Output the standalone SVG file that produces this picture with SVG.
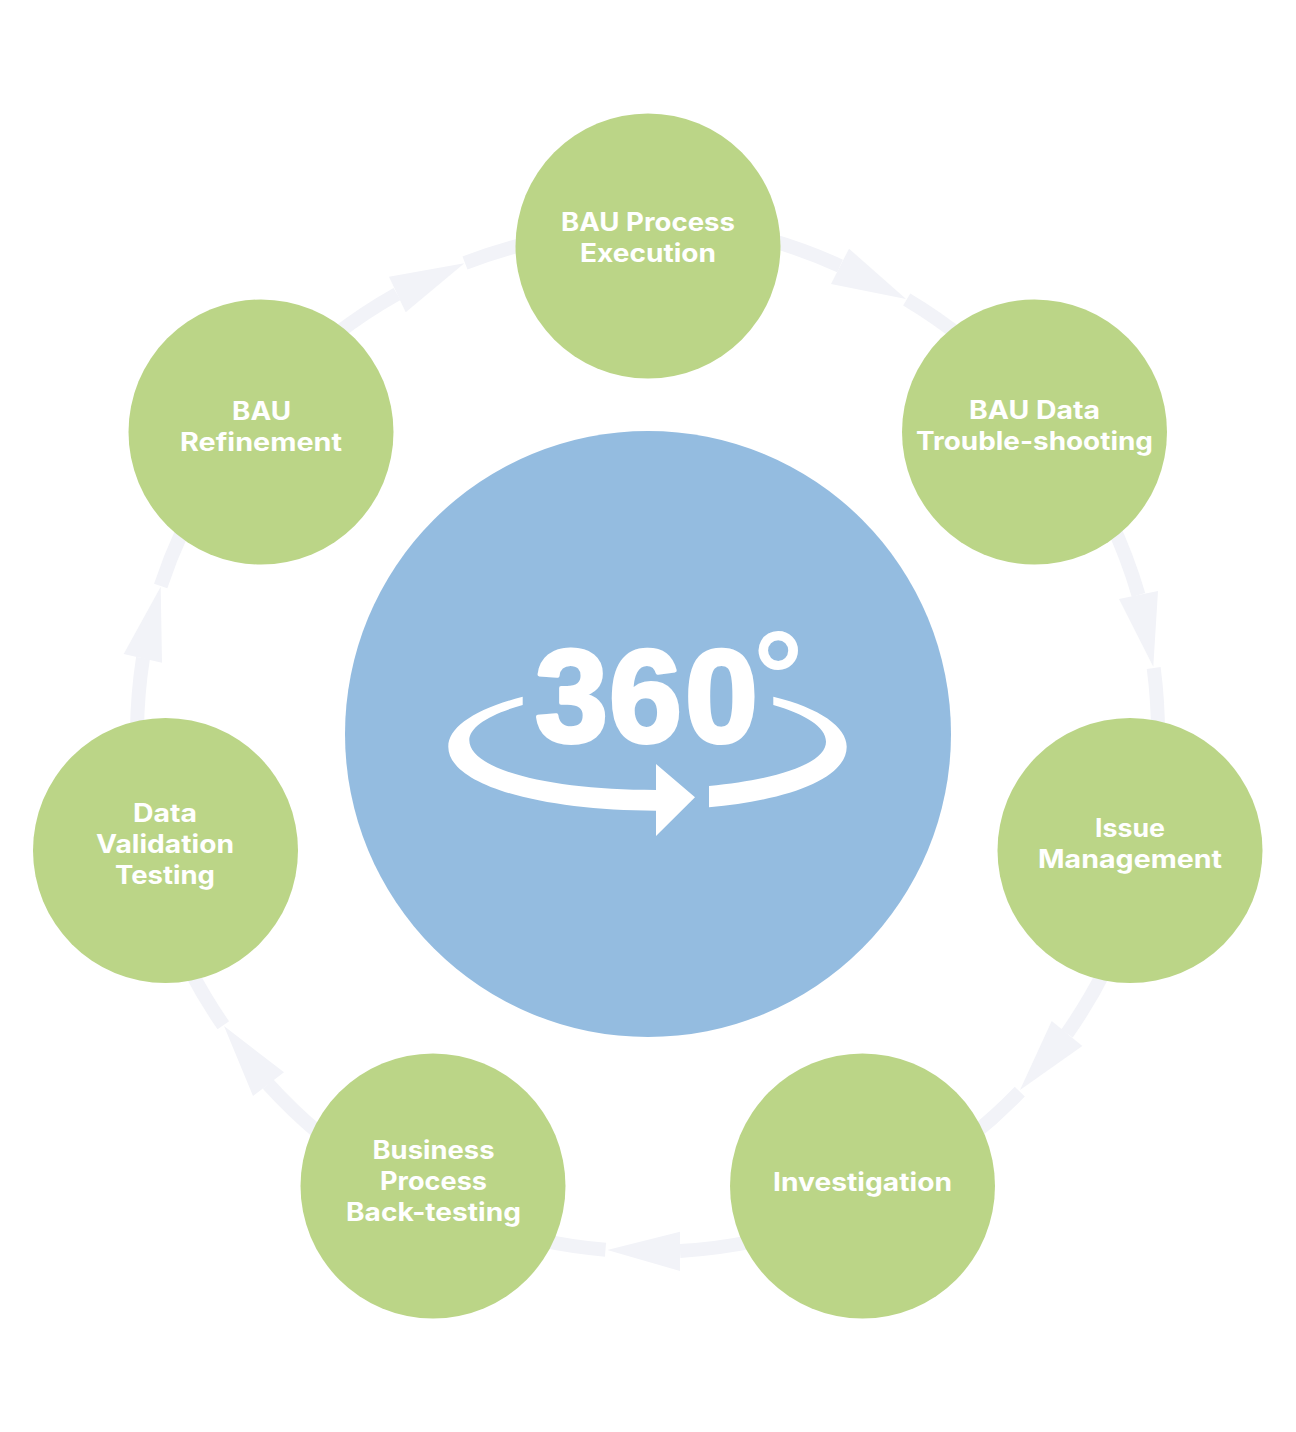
<svg xmlns="http://www.w3.org/2000/svg" width="1296" height="1432" viewBox="0 0 1296 1432">
<style>
.node{fill:#BBD587}
.hub{fill:#94BCE0}
.lbl{font-family:"Inter","Liberation Sans",sans-serif;font-weight:700;font-size:25px;fill:#fff;text-anchor:middle}
.arc{fill:none;stroke:#F2F3F8;stroke-width:14}
.head{fill:#F2F3F8}
.logo{fill:#fff}
.num{font-family:"Liberation Sans",sans-serif;font-weight:700;font-size:131px;fill:#fff;stroke:#fff;stroke-width:4;stroke-linejoin:round}
.deg{font-size:126px;stroke-width:0}
</style>
<rect width="1296" height="1432" fill="#fff"/>
<g id="connectors">
<path class="arc" d="M770 240A510 510 0 0 1 840 266"/>
<polygon class="head" points="849,248.7 831,284 906,299"/>
<path class="arc" d="M906.7 299.5A510 510 0 0 1 965 340"/>
<path class="arc" d="M1110 520A510 510 0 0 1 1138.5 595"/>
<polygon class="head" points="1119,599 1158,591 1153.3,666.7"/>
<path class="arc" d="M1153.7 668A510 510 0 0 1 1158 735"/>
<path class="arc" d="M1105 970A510 510 0 0 1 1067 1033.5"/>
<polygon class="head" points="1051.7,1021 1082.3,1046 1020,1090"/>
<path class="arc" d="M1019.8 1091.7A510 510 0 0 1 970 1137"/>
<path class="arc" d="M755 1241A510 510 0 0 1 680 1251"/>
<polygon class="head" points="680,1231.7 680,1271 607.3,1250"/>
<path class="arc" d="M605.5 1249.7A510 510 0 0 1 540 1240"/>
<path class="arc" d="M320 1134A510 510 0 0 1 268 1084"/>
<polygon class="head" points="284,1072.3 253,1096 224,1026"/>
<path class="arc" d="M223.3 1025.3A510 510 0 0 1 190 970"/>
<path class="arc" d="M137 730A510 510 0 0 1 143 658"/>
<polygon class="head" points="123.7,654 162,662.7 160.7,586.7"/>
<path class="arc" d="M160.7 586A510 510 0 0 1 182 532"/>
<path class="arc" d="M335 335A510 510 0 0 1 397 294"/>
<polygon class="head" points="389,276.7 405.7,312.3 464.3,263.3"/>
<path class="arc" d="M465 263A510 510 0 0 1 525 244"/>
</g>
<g id="hub">
<circle class="hub" cx="648" cy="734" r="303"/>
<text class="num" y="742"><tspan x="535">3</tspan><tspan x="609">6</tspan><tspan x="685">0</tspan><tspan class="deg" x="753" y="719">°</tspan></text>
<path class="logo" d="M522.7 696.7C475 709 448.3 727 448.3 746.7C448.3 785 540 810.7 656 810.7V836L695 797.3L656 764V790C550 790 469.3 770 469.3 740C469.3 727 490 714 522.7 705Z"/>
<path class="logo" d="M773.3 696.7C820 708 846.7 727 846.7 746.7C846.7 778 790 800 709 807.3V786C780 779 826 763 826 741.7C826 727 805 714 773.3 705Z"/>
</g>
<g id="node-bau-process-execution">
<circle class="node" cx="648" cy="246" r="132.5"/>
<text class="lbl" x="648" y="231" textLength="174" lengthAdjust="spacingAndGlyphs">BAU Process</text>
<text class="lbl" x="648" y="262" textLength="136" lengthAdjust="spacingAndGlyphs">Execution</text>
</g>
<g id="node-bau-data-troubleshooting">
<circle class="node" cx="1034.5" cy="432" r="132.5"/>
<text class="lbl" x="1034.5" y="419" textLength="131" lengthAdjust="spacingAndGlyphs">BAU Data</text>
<text class="lbl" x="1034.5" y="450" textLength="237" lengthAdjust="spacingAndGlyphs">Trouble-shooting</text>
</g>
<g id="node-issue-management">
<circle class="node" cx="1130" cy="850.5" r="132.5"/>
<text class="lbl" x="1130" y="837" textLength="70" lengthAdjust="spacingAndGlyphs">Issue</text>
<text class="lbl" x="1130" y="868" textLength="184" lengthAdjust="spacingAndGlyphs">Management</text>
</g>
<g id="node-investigation">
<circle class="node" cx="862.5" cy="1186" r="132.5"/>
<text class="lbl" x="862.5" y="1191" textLength="179" lengthAdjust="spacingAndGlyphs">Investigation</text>
</g>
<g id="node-business-process-backtesting">
<circle class="node" cx="433" cy="1186" r="132.5"/>
<text class="lbl" x="433.5" y="1159" textLength="122" lengthAdjust="spacingAndGlyphs">Business</text>
<text class="lbl" x="433.5" y="1190" textLength="107" lengthAdjust="spacingAndGlyphs">Process</text>
<text class="lbl" x="433.5" y="1221" textLength="175" lengthAdjust="spacingAndGlyphs">Back-testing</text>
</g>
<g id="node-data-validation-testing">
<circle class="node" cx="165.5" cy="850.5" r="132.5"/>
<text class="lbl" x="165" y="822" textLength="64" lengthAdjust="spacingAndGlyphs">Data</text>
<text class="lbl" x="165" y="853" textLength="138" lengthAdjust="spacingAndGlyphs">Validation</text>
<text class="lbl" x="165" y="884" textLength="100" lengthAdjust="spacingAndGlyphs">Testing</text>
</g>
<g id="node-bau-refinement">
<circle class="node" cx="261" cy="432" r="132.5"/>
<text class="lbl" x="261.5" y="420" textLength="59" lengthAdjust="spacingAndGlyphs">BAU</text>
<text class="lbl" x="261" y="451" textLength="162" lengthAdjust="spacingAndGlyphs">Refinement</text>
</g>
</svg>
